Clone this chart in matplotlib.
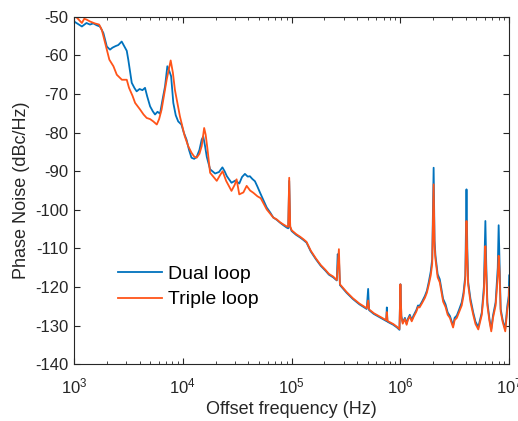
import numpy as np
import matplotlib.pyplot as plt
from matplotlib.ticker import LogLocator, NullFormatter

plt.rcParams['font.family'] = ['Liberation Sans', 'DejaVu Sans']
plt.rcParams['axes.unicode_minus'] = False

# dual loop (blue)
f_dual = [1.00e3, 1.08e3, 1.18e3, 1.30e3, 1.40e3, 1.50e3, 1.62e3, 1.73e3, 1.86e3, 2.00e3,
          2.14e3, 2.25e3, 2.40e3, 2.55e3, 2.74e3, 2.90e3, 3.05e3, 3.15e3, 3.39e3, 3.60e3,
          3.76e3, 4.00e3, 4.25e3, 4.49e3, 4.70e3, 5.00e3, 5.30e3, 5.55e3, 5.85e3, 6.17e3,
          6.50e3, 6.86e3, 7.20e3, 7.50e3, 7.80e3, 8.17e3, 8.60e3, 9.06e3, 9.70e3, 1.02e4,
          1.08e4, 1.14e4, 1.20e4, 1.27e4, 1.34e4, 1.42e4, 1.49e4, 1.54e4, 1.60e4, 1.66e4,
          1.78e4, 1.98e4, 2.15e4, 2.31e4, 2.42e4, 2.54e4, 2.80e4, 3.05e4, 3.30e4, 3.50e4,
          3.72e4, 3.95e4, 4.13e4, 4.35e4, 4.60e4, 4.85e4, 5.13e4, 5.50e4, 5.90e4, 6.35e4,
          6.78e4, 7.30e4, 7.80e4, 8.40e4, 9.00e4, 9.30e4, 9.50e4, 9.70e4, 1.00e5, 1.10e5,
          1.20e5, 1.28e5, 1.37e5, 1.50e5, 1.67e5, 1.85e5, 2.05e5, 2.20e5, 2.41e5, 2.60e5,
          2.65e5, 2.72e5, 2.78e5, 2.90e5, 3.20e5, 3.65e5, 4.20e5, 4.90e5, 5.05e5, 5.15e5,
          5.70e5, 6.50e5, 7.40e5, 7.50e5, 7.60e5, 8.60e5, 9.30e5, 9.80e5, 1.00e6, 1.02e6,
          1.05e6, 1.10e6, 1.14e6, 1.17e6, 1.22e6, 1.27e6, 1.32e6, 1.40e6, 1.45e6, 1.50e6,
          1.58e6, 1.68e6, 1.75e6, 1.82e6, 1.90e6, 1.96e6, 2.02e6, 2.06e6, 2.10e6, 2.20e6,
          2.30e6, 2.47e6, 2.60e6, 2.72e6, 2.85e6, 3.05e6, 3.15e6, 3.30e6, 3.45e6, 3.66e6,
          3.80e6, 3.95e6, 4.05e6, 4.12e6, 4.20e6, 4.40e6, 4.67e6, 4.90e6, 5.20e6, 5.45e6,
          5.60e6, 5.85e6, 6.04e6, 6.15e6, 6.30e6, 6.60e6, 6.84e6, 7.10e6, 7.50e6, 7.85e6,
          8.00e6, 8.15e6, 8.35e6, 8.70e6, 9.20e6, 9.60e6, 9.90e6, 1.00e7]
pn_dual = [-51.2, -51.8, -52.5, -51.6, -52.0, -51.7, -52.2, -52.5, -54.2, -57.7,
           -58.5, -58.0, -57.6, -57.3, -56.4, -57.7, -58.8, -61.1, -67.1, -68.5,
           -69.3, -68.7, -69.0, -68.4, -70.6, -73.2, -74.5, -75.3, -74.6, -75.1,
           -71.5, -68.0, -62.8, -64.0, -65.4, -72.3, -75.5, -77.1, -77.9, -80.0,
           -81.8, -84.5, -86.5, -86.8, -86.3, -84.5, -81.8, -81.0, -83.5, -86.3,
           -89.5, -90.6, -90.2, -89.0, -90.0, -91.3, -93.0, -92.4, -93.2, -91.5,
           -90.7, -91.4, -91.3, -92.0, -92.6, -94.0, -95.6, -97.5, -99.4, -100.7,
           -102.0, -102.6, -103.3, -104.0, -104.6, -104.8, -92.5, -104.5, -105.5, -106.5,
           -107.2, -107.8, -108.5, -110.8, -112.8, -114.5, -115.8, -116.8, -117.5, -118.3,
           -111.5, -112.5, -119.5, -120.1, -121.5, -123.1, -124.5, -125.7, -120.5, -126.0,
           -127.0, -127.9, -128.8, -125.3, -129.0, -129.8, -130.5, -131.1, -119.3, -127.5,
           -129.2, -128.0, -129.5, -128.3, -127.2, -128.6, -127.4, -126.0, -124.8, -124.9,
           -123.8, -122.3, -121.0, -118.8, -116.0, -112.8, -89.1, -108.0, -111.9, -116.7,
           -118.0, -123.1, -124.5, -126.6, -127.5, -130.0, -128.0, -127.4, -126.0, -124.0,
           -121.5, -117.1, -94.7, -110.0, -118.8, -123.0, -126.6, -129.0, -130.4, -128.0,
           -126.6, -120.0, -102.9, -114.0, -124.0, -128.5, -130.9, -127.4, -124.0, -115.0,
           -104.0, -113.0, -125.7, -128.5, -130.9, -125.0, -122.3, -117.0]

# triple loop (orange)
f_triple = [1.00e3, 1.06e3, 1.12e3, 1.18e3, 1.24e3, 1.30e3, 1.40e3, 1.55e3, 1.70e3, 1.80e3,
            1.93e3, 2.11e3, 2.30e3, 2.47e3, 2.75e3, 3.05e3, 3.20e3, 3.45e3, 3.64e3, 4.04e3,
            4.35e3, 4.65e3, 5.00e3, 5.35e3, 5.76e3, 6.05e3, 6.38e3, 6.75e3, 7.10e3, 7.73e3,
            8.10e3, 8.45e3, 9.00e3, 9.40e3, 1.04e4, 1.12e4, 1.20e4, 1.27e4, 1.34e4, 1.42e4,
            1.49e4, 1.57e4, 1.62e4, 1.68e4, 1.78e4, 2.05e4, 2.20e4, 2.32e4, 2.50e4, 2.80e4,
            3.00e4, 3.12e4, 3.30e4, 3.60e4, 3.86e4, 4.15e4, 4.45e4, 4.85e4, 5.20e4, 5.55e4,
            5.90e4, 6.35e4, 6.78e4, 7.30e4, 7.80e4, 8.40e4, 9.00e4, 9.30e4, 9.50e4, 9.70e4,
            1.00e5, 1.10e5, 1.20e5, 1.28e5, 1.37e5, 1.50e5, 1.67e5, 1.85e5, 2.05e5, 2.20e5,
            2.41e5, 2.60e5, 2.68e5, 2.72e5, 2.78e5, 2.90e5, 3.20e5, 3.65e5, 4.20e5, 4.90e5,
            5.05e5, 5.15e5, 5.70e5, 6.50e5, 7.40e5, 7.50e5, 7.60e5, 8.60e5, 9.30e5, 9.80e5,
            1.00e6, 1.02e6, 1.05e6, 1.10e6, 1.14e6, 1.17e6, 1.22e6, 1.27e6, 1.32e6, 1.40e6,
            1.45e6, 1.50e6, 1.58e6, 1.68e6, 1.75e6, 1.82e6, 1.90e6, 1.96e6, 2.02e6, 2.06e6,
            2.10e6, 2.20e6, 2.30e6, 2.47e6, 2.60e6, 2.72e6, 2.85e6, 3.05e6, 3.15e6, 3.30e6,
            3.45e6, 3.66e6, 3.80e6, 3.95e6, 4.05e6, 4.12e6, 4.20e6, 4.40e6, 4.67e6, 4.90e6,
            5.20e6, 5.45e6, 5.60e6, 5.85e6, 6.04e6, 6.15e6, 6.30e6, 6.60e6, 6.84e6, 7.10e6,
            7.50e6, 7.85e6, 8.00e6, 8.15e6, 8.35e6, 8.70e6, 9.20e6, 9.60e6, 9.90e6, 1.00e7]
pn_triple = [-49.8, -50.2, -50.9, -51.6, -50.5, -50.7, -51.2, -51.7, -52.0, -53.4,
             -56.8, -61.1, -62.8, -65.0, -66.3, -66.3, -68.4, -70.5, -72.3, -74.0,
             -75.3, -76.2, -76.5, -77.1, -77.9, -76.5, -74.0, -70.0, -66.3, -61.3,
             -64.5, -68.9, -73.0, -75.8, -80.9, -83.5, -85.2, -86.2, -86.5, -85.5,
             -83.5, -78.8, -80.5, -84.0, -90.4, -92.5, -91.0, -90.0, -92.5, -95.1,
             -93.5, -92.1, -96.0, -95.5, -93.8, -95.0, -95.6, -96.5, -97.0, -98.5,
             -99.9, -101.0, -102.0, -102.5, -103.2, -103.8, -104.3, -104.4, -91.7, -104.3,
             -105.3, -106.3, -107.0, -107.6, -108.3, -110.6, -112.6, -114.3, -115.6, -116.6,
             -117.3, -118.2, -113.0, -110.2, -119.3, -119.9, -121.3, -122.9, -124.3, -125.5,
             -123.5, -125.8, -126.8, -127.7, -128.6, -126.5, -128.8, -129.6, -130.3, -130.9,
             -119.3, -127.8, -129.5, -128.3, -129.8, -128.6, -127.6, -128.9, -127.8, -126.4,
             -125.2, -125.3, -124.2, -122.8, -121.5, -119.5, -117.0, -114.0, -93.4, -109.5,
             -112.8, -117.5, -118.8, -123.8, -125.2, -127.2, -128.0, -130.5, -128.6, -128.0,
             -126.6, -124.8, -122.3, -118.0, -102.9, -112.5, -119.5, -123.8, -127.2, -129.6,
             -131.0, -128.6, -127.2, -121.5, -109.4, -116.5, -124.8, -129.0, -131.5, -128.0,
             -124.8, -117.5, -111.9, -116.0, -126.3, -129.0, -131.5, -126.0, -123.5, -120.0]

fig = plt.figure(figsize=(5.18, 4.21), dpi=100)
ax = fig.add_axes([0.143, 0.135, 0.840, 0.825])

ax.semilogx(f_dual, pn_dual, color='#0072BD', lw=1.3, label='Dual loop')
ax.semilogx(f_triple, pn_triple, color='#FF5419', lw=1.3, label='Triple loop')

ax.set_xlim(1e3, 1e7)
ax.set_ylim(-140, -50)
ax.set_yticks(np.arange(-140, -49, 10))
ax.xaxis.set_minor_locator(LogLocator(base=10, subs=np.arange(2, 10)))
ax.xaxis.set_minor_formatter(NullFormatter())
ax.tick_params(which='both', direction='in', top=True, right=True,
               colors='#262626', labelsize=12)
ax.tick_params(which='major', length=4)
ax.tick_params(which='minor', length=2.5)
ax.tick_params(axis='x', which='major', pad=9)
ax.tick_params(axis='y', which='major', pad=4)
for s in ax.spines.values():
    s.set_color('#262626')

ax.set_xlabel('Offset frequency (Hz)', fontsize=13, color='#262626', labelpad=3)
ax.set_ylabel('Phase Noise (dBc/Hz)', fontsize=13, color='#262626', labelpad=4)

ax.legend(loc='lower left', bbox_to_anchor=(0.06, 0.11), frameon=False,
          fontsize=14, handlelength=2.3, handletextpad=0.3, labelspacing=0.42)

fig.savefig('out.png', dpi=100)
